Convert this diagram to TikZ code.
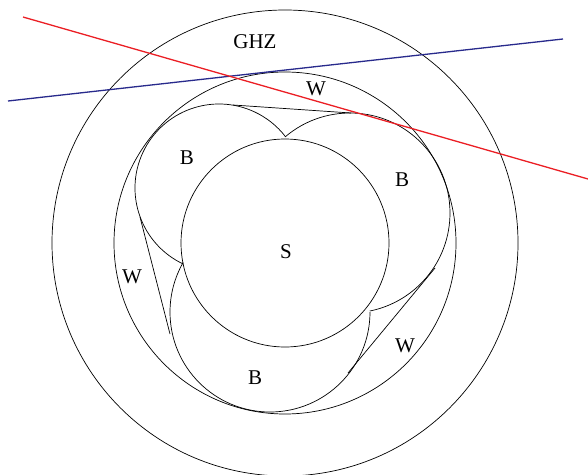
\documentclass[tikz,border=0pt]{standalone}
\usepackage{fontspec}
\setmainfont{Liberation Serif}
\usetikzlibrary{calc}
\definecolor{linered}{RGB}{235,30,36}
\definecolor{lineblue}{RGB}{40,42,140}
\begin{document}
\begin{tikzpicture}[x=1pt,y=-1pt,
  thin line/.style={draw=black,line width=0.7pt},
  cut line/.style={line width=1.3pt},
  lbl/.style={inner sep=0pt,font=\fontsize{21}{24}\selectfont}]
\useasboundingbox (0,0) rectangle (588,474);
% concentric circles
\coordinate (O) at (285,243);
\draw[thin line] (O) circle[radius=233];
\draw[thin line] (O) circle[radius=171];
\draw[thin line] (O) circle[radius=104];
% B lobes
\coordinate (c1) at (219,188);
\coordinate (c2) at (350,213);
\coordinate (c3) at (270,312);
\draw[thin line] ($(c1)+(115:84)$) arc[start angle=115,end angle=322.3,radius=84];
\draw[thin line] ($(c2)+(229.5:100)$) arc[start angle=229.5,end angle=438.6,radius=100];
\draw[thin line] ($(c3)+(0:100)$) arc[start angle=0,end angle=209.7,radius=100];
% W tangent segments
\coordinate (t1) at (233,105);
\coordinate (t2) at (351,113);
\coordinate (l1) at (140,217);
\coordinate (l2) at (170,334);
\coordinate (r1) at (435,268);
\coordinate (r2) at (348,373);
\draw[thin line] (t1) -- (t2);
\draw[thin line] (l1) -- (l2);
\draw[thin line] (r1) -- (r2);
% cutting lines
\coordinate (ra) at (23,17);
\coordinate (rb) at (588,179);
\coordinate (ba) at (8,101);
\coordinate (bb) at (563,39);
\draw[cut line,lineblue] (ba) -- (bb);
\draw[cut line,linered] (ra) -- (rb);
% labels
\node[lbl] (ghz) at (255,42) {GHZ};
\node[lbl] (wtop) at (316,89) {W};
\node[lbl] (b1) at (187,158) {B};
\node[lbl] (b2) at (402,180) {B};
\node[lbl] (wl) at (132,277) {W};
\node[lbl] (s) at (286,252) {S};
\node[lbl] (wr) at (405,346) {W};
\node[lbl] (b3) at (255,378) {B};
\end{tikzpicture}
\end{document}
